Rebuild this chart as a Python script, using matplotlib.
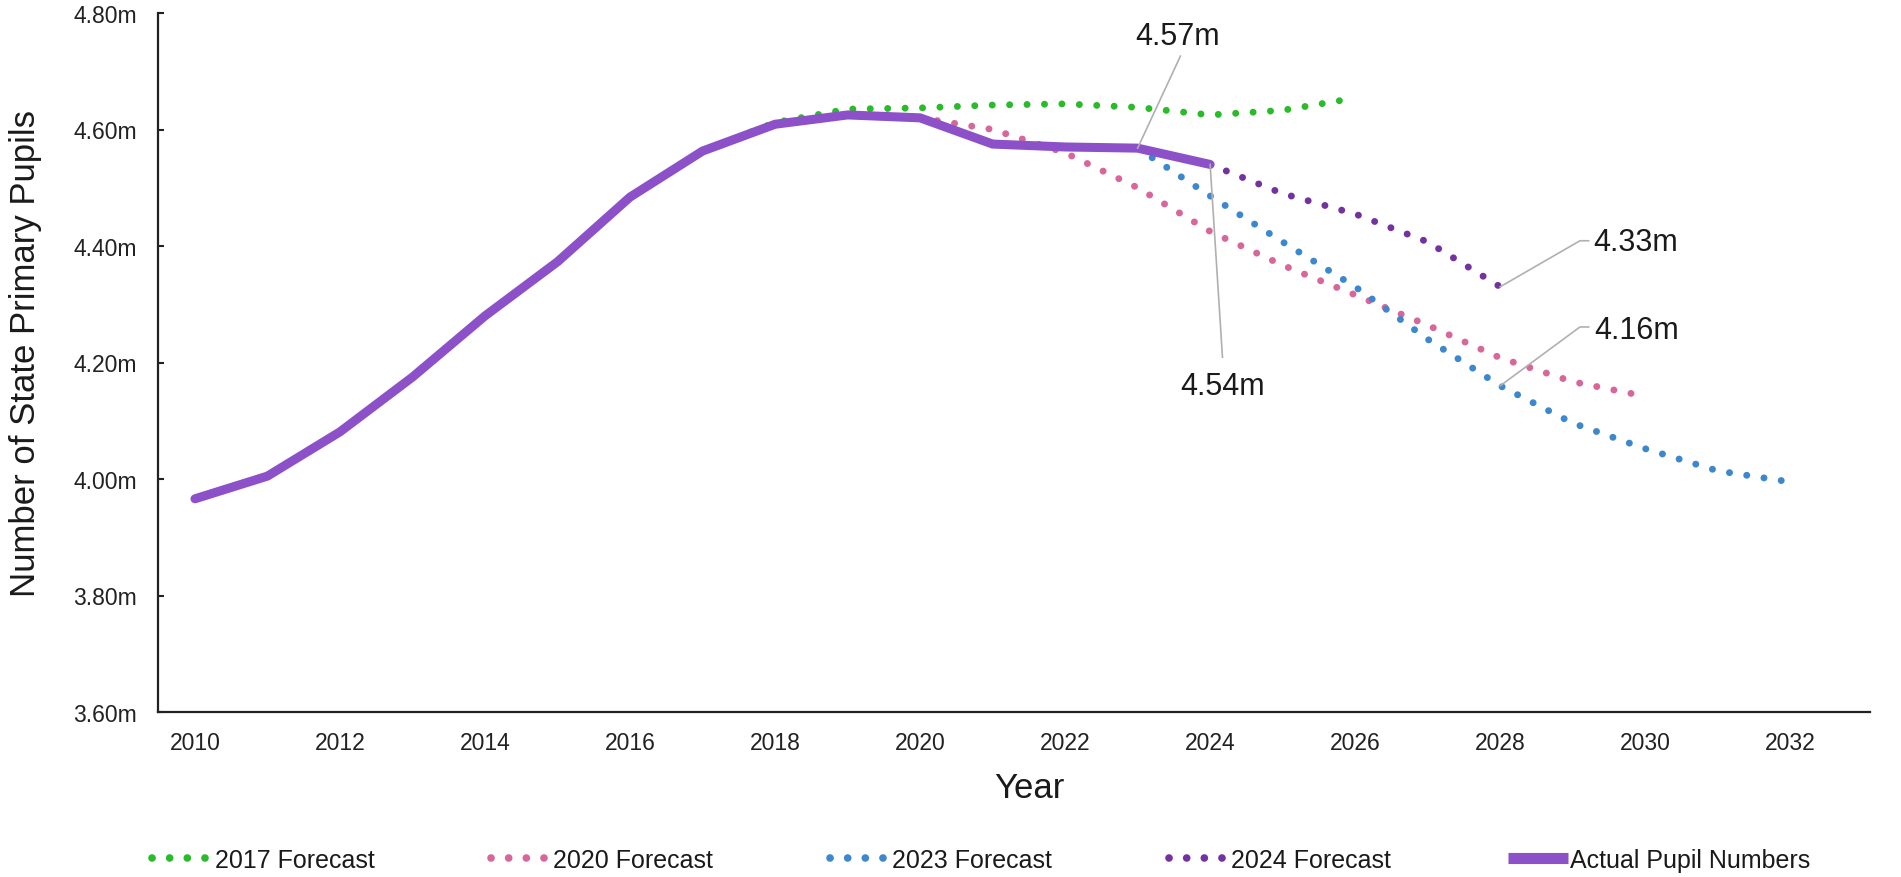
import numpy as np
import matplotlib.pyplot as plt
from matplotlib.lines import Line2D

plt.rcParams['font.family'] = ['Liberation Sans', 'DejaVu Sans']

# actual pupil numbers (millions)
actual_years = [2010, 2011, 2012, 2013, 2014, 2015, 2016, 2017, 2018, 2019, 2020, 2021, 2022, 2023, 2024]
actual_vals = [3.966, 4.005, 4.081, 4.175, 4.280, 4.373, 4.484, 4.563, 4.609, 4.625, 4.620, 4.575, 4.570, 4.568, 4.540]

# forecasts
f2017_years = [2017, 2018, 2019, 2020, 2021, 2022, 2023, 2024, 2025, 2026]
f2017_vals = [4.563, 4.612, 4.635, 4.637, 4.642, 4.644, 4.638, 4.625, 4.633, 4.654]

f2020_years = [2020, 2021, 2022, 2023, 2024, 2025, 2026, 2027, 2028, 2029, 2030]
f2020_vals = [4.620, 4.600, 4.560, 4.500, 4.425, 4.367, 4.316, 4.264, 4.208, 4.167, 4.142]

f2023_years = [2023, 2024, 2025, 2026, 2027, 2028, 2029, 2030, 2031, 2032]
f2023_vals = [4.568, 4.486, 4.407, 4.330, 4.240, 4.160, 4.096, 4.052, 4.014, 3.995]

f2024_years = [2024, 2025, 2026, 2027, 2028]
f2024_vals = [4.540, 4.490, 4.455, 4.407, 4.330]

series_labels = ['2017 Forecast', '2020 Forecast', '2023 Forecast', '2024 Forecast', 'Actual Pupil Numbers']
colors = ['#2abb2a', '#d7669a', '#3c87cd', '#7332a0', '#8c50c8']

x_ticks = list(range(2010, 2033, 2))
y_ticks = [3.6, 3.8, 4.0, 4.2, 4.4, 4.6, 4.8]

W, H = 1901, 878
fig = plt.figure(figsize=(W / 100, H / 100), dpi=100)
ax = fig.add_axes([158 / W, 1 - 713 / H, (1870 - 158) / W, (713 - 14) / H])

dot = (0, (0.01, 2.5))
dot_lw = 5.0
forecasts = [(f2017_years, f2017_vals), (f2020_years, f2020_vals),
             (f2023_years, f2023_vals), (f2024_years, f2024_vals)]
for (xs, ys), c in zip(forecasts, colors[:4]):
    ax.plot(xs, ys, color=c, lw=dot_lw, ls=dot, dash_capstyle='round')
ax.plot(actual_years, actual_vals, color=colors[4], lw=6.5, solid_capstyle='round', zorder=3)

ax.set_xlim(2009.49, 2033.1)
ax.set_ylim(3.6, 4.8)
ax.set_xticks(x_ticks)
ax.set_yticks(y_ticks)
ax.set_yticklabels([f'{v:.2f}m' for v in y_ticks])

for s in ['top', 'right']:
    ax.spines[s].set_visible(False)
for s in ['left', 'bottom']:
    ax.spines[s].set_linewidth(1.6)
    ax.spines[s].set_color('#222222')

ax.tick_params(axis='y', direction='in', length=4, width=1.5, labelsize=16.5, pad=15, colors='#222222')
ax.tick_params(axis='x', length=0, labelsize=16.5, pad=14, colors='#222222')

ax.set_xlabel('Year', fontsize=25, color='#1a1a1a')
ax.set_ylabel('Number of State Primary Pupils', fontsize=25, color='#1a1a1a')
ax.xaxis.set_label_coords(0.509, -0.085)
ax.yaxis.set_label_coords(-0.068, 0.514)

# callouts
lc = '#b0b0b0'
ax.plot([2023, 2023.59], [4.568, 4.726], color=lc, lw=1.2, zorder=4)
ax.text(2023.55, 4.760, '4.57m', fontsize=22, ha='center', va='center', color='#1a1a1a')

ax.plot([2024, 2024.17], [4.540, 4.209], color=lc, lw=1.2, zorder=4)
ax.text(2024.17, 4.160, '4.54m', fontsize=22, ha='center', va='center', color='#1a1a1a')

ax.plot([2028, 2029.1, 2029.22], [4.330, 4.409, 4.409], color=lc, lw=1.2, zorder=4)
ax.text(2029.28, 4.407, '4.33m', fontsize=22, ha='left', va='center', color='#1a1a1a')

ax.plot([2028, 2029.1, 2029.22], [4.160, 4.261, 4.261], color=lc, lw=1.2, zorder=4)
ax.text(2029.3, 4.256, '4.16m', fontsize=22, ha='left', va='center', color='#1a1a1a')

# legend with tighter dotted handles
handles = [Line2D([], [], color=c, lw=5.5, ls=(0, (0.01, 2.3)), dash_capstyle='round') for c in colors[:4]]
handles.append(Line2D([], [], color=colors[4], lw=8, solid_capstyle='butt'))
fig.legend(handles, series_labels, loc='center', bbox_to_anchor=(0.5162, 0.0194), ncol=5, frameon=False,
           fontsize=18, handlelength=2.4, handletextpad=0.1, columnspacing=4.66, labelcolor='#1a1a1a')

fig.savefig('out.png', dpi=100)
